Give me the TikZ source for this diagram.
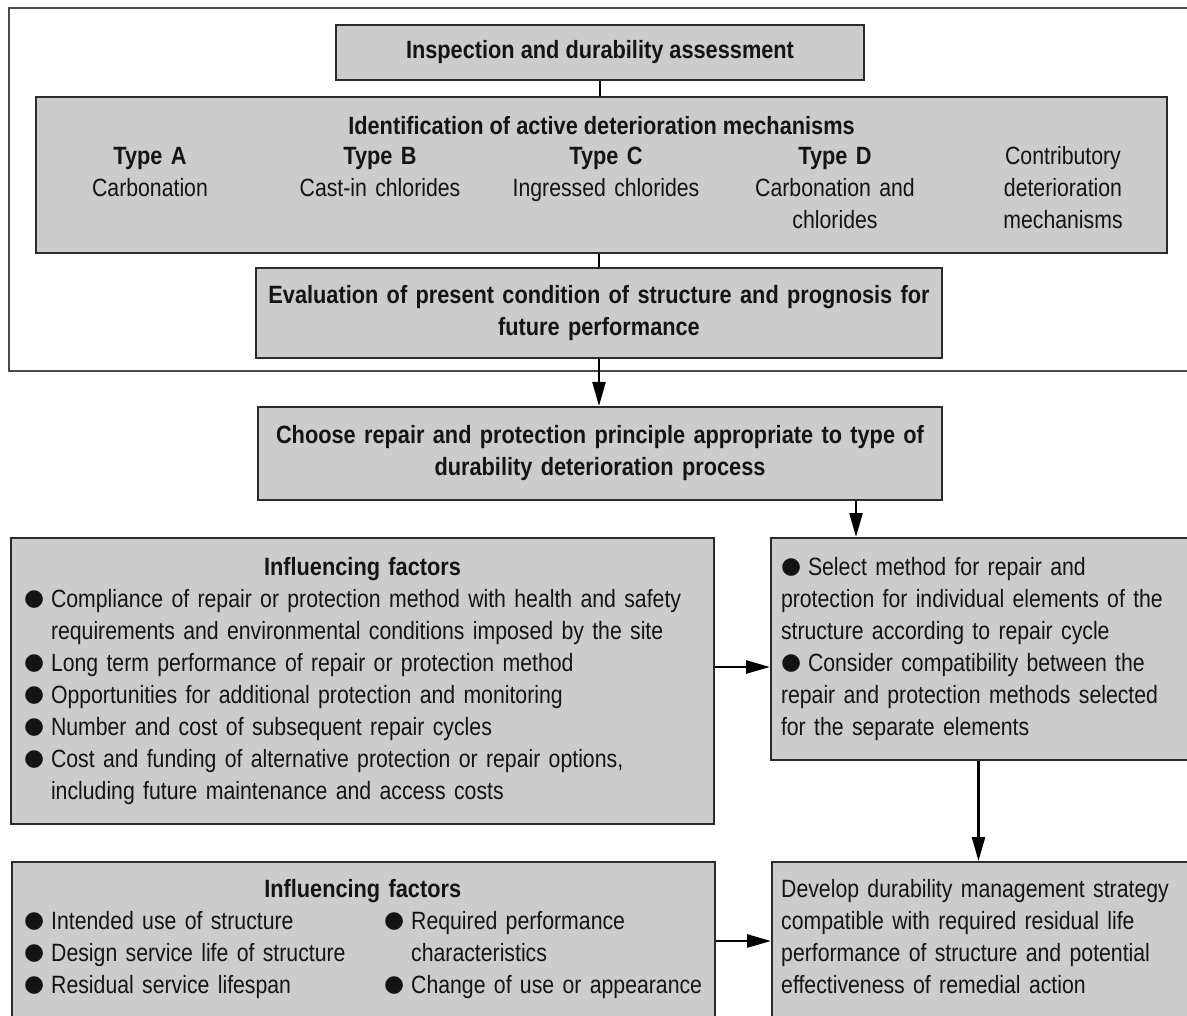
\documentclass[tikz,border=0pt]{standalone}
\usepackage{fontspec}
\setmainfont{Liberation Sans}[FakeStretch=0.85, BoldFeatures={FakeStretch=0.87}]
\newfontfamily\dotfont{DejaVu Sans}
\usetikzlibrary{arrows.meta}

\definecolor{boxgray}{HTML}{CCCCCC}
\definecolor{edgegray}{HTML}{2B2B2B}
\definecolor{framegray}{HTML}{4A4A4A}
\definecolor{txt}{HTML}{141414}

\newcommand{\dotmark}[1][27pt]{\makebox[#1][l]{\raisebox{1.5pt}{\dotfont\fontsize{23}{23}\selectfont ●}}}

\tikzset{
  box/.style={draw=edgegray, fill=boxgray, line width=2pt, inner sep=0pt,
    text=txt, font=\fontsize{25}{32}\selectfont},
  bbox/.style={box, font=\fontsize{25}{32}\selectfont\bfseries},
  cell/.style={inner sep=0pt, text=txt, text width=226pt, align=center,
    font=\fontsize{25}{32}\selectfont},
  plain/.style={inner sep=0pt, text=txt, align=left,
    font=\fontsize{25}{32}\selectfont},
  link/.style={line width=2.5pt},
  arr/.style={link, -{Triangle[length=24pt,width=13pt]}},
}

\begin{document}
\begin{tikzpicture}[x=1pt, y=-1pt]
  \useasboundingbox (0,0) rectangle (1187,1016);
  \clip (0,0) rectangle (1187,1016);

  % assessment frame
  \draw[framegray, line width=1.5pt] (9,8) rectangle (1192,371);

  \node[bbox, minimum width=528pt, minimum height=55pt] (inspect) at (600,52.5)
    {Inspection and durability assessment};

  \node[box, minimum width=1131pt, minimum height=156pt] (ident) at (601.5,175) {};
  \node[plain, anchor=base, font=\fontsize{25}{32}\selectfont\bfseries] (identtitle) at (601.5,135)
    {Identification of active deterioration mechanisms};
  \node[cell, anchor=base] (typeA) at (150,165) {\textbf{Type A}\\Carbonation};
  \node[cell, anchor=base] (typeB) at (380,165) {\textbf{Type B}\\Cast-in chlorides};
  \node[cell, anchor=base] (typeC) at (606,165) {\textbf{Type C}\\Ingressed chlorides};
  \node[cell, anchor=base] (typeD) at (835,165) {\textbf{Type D}\\Carbonation and\\chlorides};
  \node[cell, anchor=base] (contrib) at (1063,165) {Contributory\\deterioration\\mechanisms};

  \node[bbox, minimum width=686pt, minimum height=90pt, text width=670pt, align=center]
    (evaluate) at (599,313)
    {Evaluation of present condition of structure and prognosis for\\future performance};

  \node[bbox, minimum width=684pt, minimum height=93pt, text width=670pt, align=center]
    (choose) at (600,453.5)
    {Choose repair and protection principle appropriate to type of\\durability deterioration process};

  \node[box, minimum width=703pt, minimum height=286pt, text width=677pt, align=left]
    (factorsA) at (362.5,681)
    {\makebox[677pt][c]{\bfseries Influencing factors}\\
     \dotmark Compliance of repair or protection method with health and safety\\
     \hspace*{27pt}requirements and environmental conditions imposed by the site\\
     \dotmark Long term performance of repair or protection method\\
     \dotmark Opportunities for additional protection and monitoring\\
     \dotmark Number and cost of subsequent repair cycles\\
     \dotmark Cost and funding of alternative protection or repair options,\\
     \hspace*{27pt}including future maintenance and access costs};

  \node[box, minimum width=421pt, minimum height=222pt, text width=401pt, align=left]
    (select) at (981.5,649)
    {\dotmark Select method for repair and\\
     protection for individual elements of the\\
     structure according to repair cycle\\
     \dotmark Consider compatibility between the\\
     repair and protection methods selected\\
     for the separate elements};

  \node[box, minimum width=703pt, minimum height=170pt, anchor=north west] (factorsB) at (11,861) {};
  \node[plain, anchor=north west, text width=677pt] (factorsBtext) at ([xshift=13pt, yshift=-18pt]factorsB.north west)
    {\makebox[677pt][c]{\bfseries Influencing factors}\\
     \mbox{\makebox[360pt][l]{\dotmark Intended use of structure}\dotmark Required performance}\\
     \mbox{\makebox[360pt][l]{\dotmark Design service life of structure}\hspace*{27pt}characteristics}\\
     \mbox{\makebox[360pt][l]{\dotmark Residual service lifespan}\dotmark Change of use or appearance}};

  \node[box, minimum width=421pt, minimum height=170pt, anchor=north west] (develop) at (771,861) {};
  \node[plain, anchor=north west, text width=401pt] (developtext) at ([xshift=10pt, yshift=-18pt]develop.north west)
    {Develop durability management strategy\\
     compatible with required residual life\\
     performance of structure and potential\\
     effectiveness of remedial action};

  \draw[link] (inspect.south) -- (inspect.south |- ident.north);
  \draw[link] (evaluate.north) -- (evaluate.north |- ident.south);
  \draw[arr] (evaluate.south) -- (evaluate.south |- choose.north);
  \draw[arr] ([xshift=-87pt]choose.south east) -- ([xshift=-87pt]choose.south east |- select.north);
  \draw[arr] ([yshift=14pt]factorsA.east) -- ([yshift=14pt]factorsA.east -| select.west);
  \draw[arr] ([xshift=-3pt]select.south) -- ([xshift=-3pt]select.south |- develop.north);
  \draw[arr] ([yshift=6pt]factorsB.east) -- ([yshift=6pt]factorsB.east -| develop.west);
\end{tikzpicture}
\end{document}
